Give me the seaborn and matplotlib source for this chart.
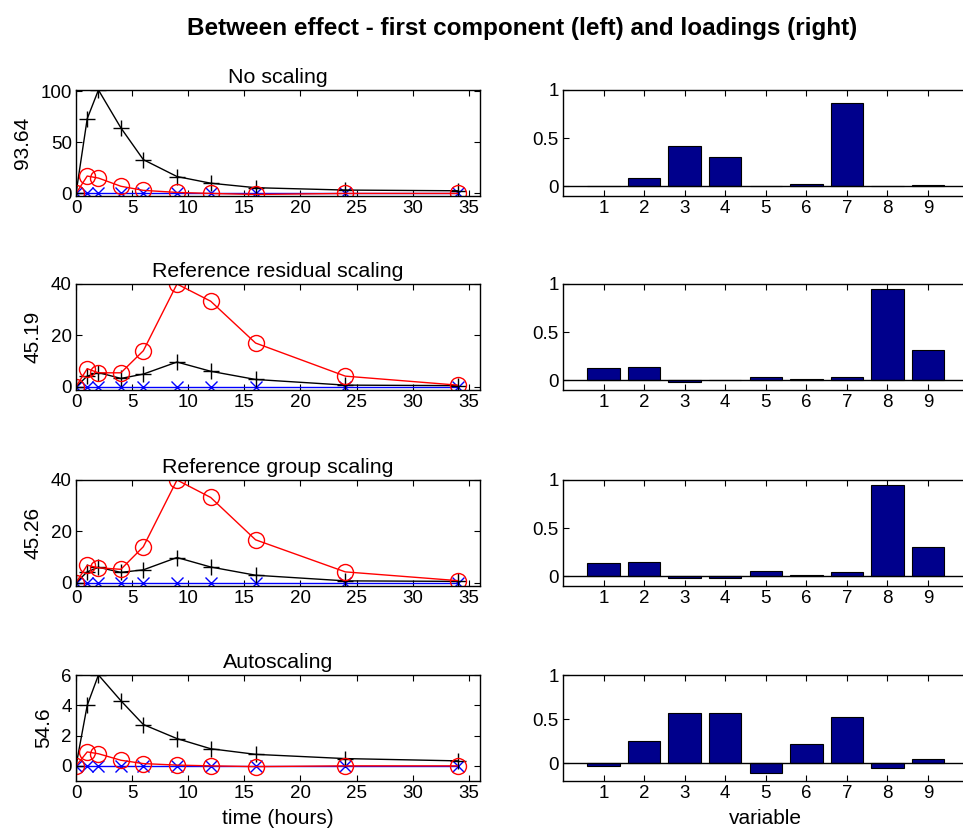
import numpy as np
import pandas as pd
import matplotlib
matplotlib.use("Agg")
import matplotlib.pyplot as plt
import seaborn as sns

# ---------------- data ----------------
time_hours = [0, 1, 2, 4, 6, 9, 12, 16, 24, 34]
variables = [1, 2, 3, 4, 5, 6, 7, 8, 9]

panel_titles = ["No scaling", "Reference residual scaling",
                "Reference group scaling", "Autoscaling"]
explained = ["93.64", "45.19", "45.26", "54.6"]

# score series per panel (black '+', red 'o', blue 'x')
black_noscale = [0, 73, 101, 64, 33, 16.5, 10, 5.6, 3.3, 2.6]
red_noscale = [0, 17, 15, 7, 3, 1, 0, -1, 0, 0]
blue_noscale = [0, 0, 0, 0, 0, 0, 0, 0, 0, 0]

black_resid = [0, 4.1, 5.5, 3.2, 4.9, 9.6, 6.0, 2.8, 0.6, 0.4]
red_resid = [0, 7.0, 5.4, 5.4, 14.0, 40.0, 33.3, 17.0, 4.1, 0.6]
blue_resid = [0, 0, 0, 0, 0, 0, 0, 0, 0, 0]

black_group = [0, 4.2, 6.0, 4.0, 5.0, 9.8, 6.1, 2.9, 0.7, 0.5]
red_group = [0, 6.8, 5.8, 5.2, 14.0, 40.0, 33.2, 16.7, 4.2, 0.8]
blue_group = [0, 0, 0, 0, 0, 0, 0, 0, 0, 0]

black_auto = [0, 4.0, 6.0, 4.3, 2.73, 1.8, 1.13, 0.76, 0.48, 0.33]
red_auto = [0, 0.92, 0.8, 0.37, 0.15, 0.05, 0, -0.05, 0, 0]
blue_auto = [0, 0, 0, 0, 0, 0, 0, 0, 0, 0]

# loadings per panel
load_noscale = [0, 0.086, 0.42, 0.30, 0, 0.028, 0.87, 0, 0.01]
load_resid = [0.124, 0.138, -0.015, 0, 0.04, 0.01, 0.04, 0.948, 0.314]
load_group = [0.134, 0.147, -0.012, -0.012, 0.06, 0.01, 0.048, 0.95, 0.305]
load_auto = [-0.034, 0.257, 0.571, 0.571, -0.11, 0.22, 0.52, -0.049, 0.05]

score_sets = [
    (black_noscale, red_noscale, blue_noscale),
    (black_resid, red_resid, blue_resid),
    (black_group, red_group, blue_group),
    (black_auto, red_auto, blue_auto),
]
loading_sets = [load_noscale, load_resid, load_group, load_auto]

score_ylims = [(-2.5, 101), (-1.3, 40), (-1.3, 40), (-1, 6)]
score_yticks = [[0, 50, 100], [0, 20, 40], [0, 20, 40], [0, 2, 4, 6]]
load_ylims = [(-0.1, 1), (-0.1, 1), (-0.1, 1), (-0.2, 1)]

# ---------------- styling ----------------
sns.set_style("ticks")
plt.rcParams["font.family"] = ["Liberation Sans", "DejaVu Sans"]
plt.rcParams["xtick.direction"] = "in"
plt.rcParams["ytick.direction"] = "in"
for key in ["text.color", "axes.labelcolor", "xtick.color", "ytick.color",
            "axes.edgecolor", "axes.titlecolor"]:
    plt.rcParams[key] = "black"

W, H = 963, 834
fig = plt.figure(figsize=(W / 100, H / 100), dpi=100)

tops = [90, 284, 480, 675]
ax_h = 106
left_x, left_w = 76, 404
right_x, right_w = 563, 405.5

bar_color = "#00008C"
TICK_FS = 13.5
LABEL_FS = 15
TITLE_FS = 15.4

for i in range(4):
    top = tops[i]
    # ---- left: scores ----
    axl = fig.add_axes([left_x / W, 1 - (top + ax_h) / H, left_w / W, ax_h / H])
    blk, red, blu = score_sets[i]
    df = pd.DataFrame({"t": time_hours, "black": blk, "red": red, "blue": blu})
    sns.lineplot(data=df, x="t", y="blue", ax=axl, color="blue", lw=1,
                 marker="x", markersize=8, markeredgecolor="blue",
                 markeredgewidth=1)
    sns.lineplot(data=df, x="t", y="black", ax=axl, color="black", lw=1,
                 marker="+", markersize=12, markeredgecolor="black",
                 markeredgewidth=1)
    sns.lineplot(data=df, x="t", y="red", ax=axl, color="red", lw=1,
                 marker="o", markersize=11.5, markerfacecolor="none",
                 markeredgecolor="red", markeredgewidth=1)
    axl.set_xlim(0, 36)
    axl.set_ylim(*score_ylims[i])
    axl.set_xticks([0, 5, 10, 15, 20, 25, 30, 35])
    axl.set_yticks(score_yticks[i])
    axl.set_title(panel_titles[i], fontsize=TITLE_FS, pad=5)
    axl.set_ylabel(explained[i], fontsize=LABEL_FS, labelpad=6)
    axl.set_xlabel("time (hours)" if i == 3 else "", fontsize=LABEL_FS, labelpad=5)
    axl.tick_params(axis="both", labelsize=TICK_FS, top=True, right=True,
                    length=4, width=0.8, pad=3)
    for s in axl.spines.values():
        s.set_linewidth(1.0)
        s.set_color("black")

    # ---- right: loadings ----
    axr = fig.add_axes([right_x / W, 1 - (top + ax_h) / H, right_w / W, ax_h / H])
    dl = pd.DataFrame({"var": variables, "loading": loading_sets[i]})
    sns.barplot(data=dl, x="var", y="loading", ax=axr, native_scale=True,
                color=bar_color, saturation=1, edgecolor="black",
                linewidth=0.8, width=0.8)
    axr.axhline(0, color="black", lw=1)
    axr.set_xlim(0, 10)
    axr.set_ylim(*load_ylims[i])
    axr.set_xticks(variables)
    axr.set_xticklabels([str(v) for v in variables])
    axr.set_yticks([0, 0.5, 1])
    axr.set_yticklabels(["0", "0.5", "1"])
    axr.set_ylabel("")
    axr.set_xlabel("variable" if i == 3 else "", fontsize=LABEL_FS, labelpad=5)
    axr.tick_params(axis="both", labelsize=TICK_FS, top=True, right=True,
                    length=4, width=0.8, pad=3)
    for s in axr.spines.values():
        s.set_linewidth(1.0)
        s.set_color("black")

fig.text(522 / W, 1 - 28 / H, "Between effect - first component (left) and loadings (right)",
         ha="center", va="center", fontsize=17.5, fontweight="bold")

fig.savefig("out.png", dpi=100)
